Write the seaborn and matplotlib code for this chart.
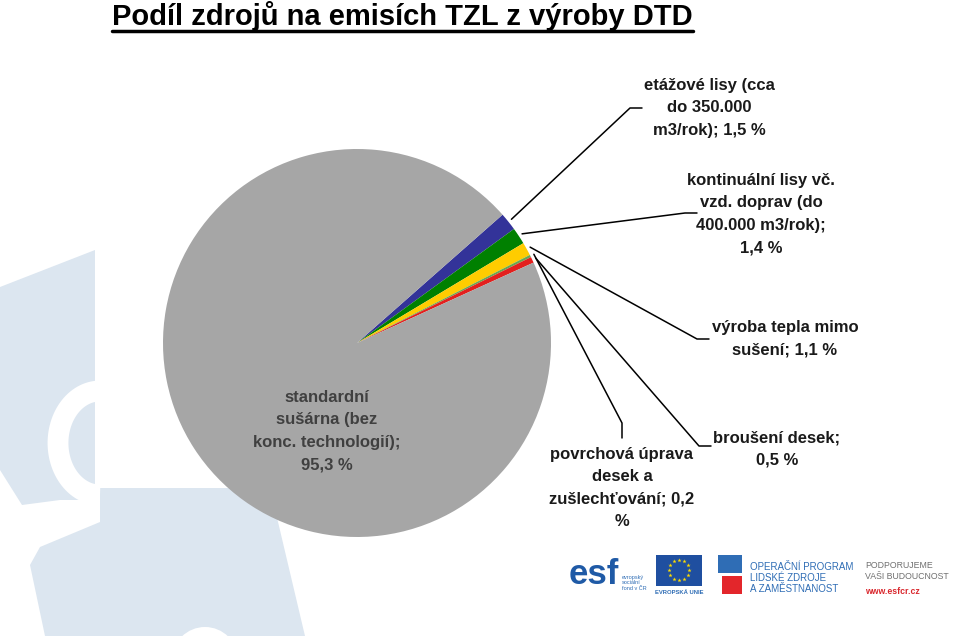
import matplotlib
matplotlib.use("Agg")
import numpy as np
import matplotlib.pyplot as plt
import seaborn as sns
from matplotlib.patches import Polygon, Rectangle, Circle

sns.set_theme(style="white")
plt.rcParams['font.family'] = ['Liberation Sans', 'DejaVu Sans']

# data
categories = ["etážové lisy (cca do 350.000 m3/rok)",
              "kontinuální lisy vč. vzd. doprav (do 400.000 m3/rok)",
              "výroba tepla mimo sušení",
              "povrchová úprava desek a zušlechťování",
              "broušení desek",
              "standardní sušárna (bez konc. technologií)"]
values = [1.5, 1.4, 1.1, 0.2, 0.5, 95.3]
label_lines = [["etážové lisy (cca", "do 350.000", "m3/rok);"],
               ["kontinuální lisy vč.", "vzd. doprav (do", "400.000 m3/rok);"],
               ["výroba tepla mimo", "sušení;"],
               ["povrchová úprava", "desek a", "zušlechťování;"],
               ["broušení desek;"],
               ["standardní", "sušárna (bez", "konc. technologií);"]]
colors = ["#333399", "#008000", "#FFCC00", "#6AA84F", "#E3201E", "#A6A6A6"]

W, H = 960, 636
fig = plt.figure(figsize=(W / 100, H / 100), dpi=100)
fig.patch.set_facecolor("white")

def ff(x, y):
    # pixel (from top-left) -> figure fraction
    return x / W, 1 - y / H

# background layer in pixel coordinates
bg = fig.add_axes([0, 0, 1, 1], zorder=0)
bg.set_xlim(0, W); bg.set_ylim(H, 0); bg.axis("off")
bg.patch.set_alpha(0)

# watermark puzzle
wm = "#DCE6F0"
bg.add_patch(Polygon([(0, 287), (95, 250), (95, 500), (60, 500), (22, 505), (0, 470)],
                     closed=True, facecolor=wm, edgecolor="none"))
t = np.linspace(np.pi * 0.5, np.pi * 1.5, 60)
bg.plot(100 + 42 * np.cos(t), 443 + 52 * np.sin(t), color="white", lw=15, solid_capstyle="butt")
bg.add_patch(Rectangle((95, 380), 10, 130, facecolor="white", edgecolor="none"))
bg.add_patch(Polygon([(100, 488), (270, 488), (305, 636), (45, 636), (30, 565), (40, 547), (100, 522)],
                     closed=True, facecolor=wm, edgecolor="none"))
bg.add_patch(Circle((205, 660), 33, facecolor="white", edgecolor="none"))

# pie
cx, cy, r = 357, 343, 194
ax = fig.add_axes([(cx - r) / W, (H - cy - r) / H, 2 * r / W, 2 * r / H], zorder=2)
wedges, _ = ax.pie(values, colors=colors, startangle=41.4, counterclock=False,
                   wedgeprops=dict(linewidth=0))
ax.set_xlim(-1, 1); ax.set_ylim(-1, 1)
ax.set_aspect("equal")
ax.axis("off")

def px2data(x, y):
    disp = fig.transFigure.transform(ff(x, y))
    return ax.transData.inverted().transform(disp)

def fmt(v):
    return f"{v:.1f}".replace(".", ",") + " %"

txt_kw = dict(fontsize=12, fontweight="bold", ha="center", va="center", multialignment="center",
              color="#1a1a1a", linespacing=1.62)

# label text positions and leader elbows (pixels)
text_pos = [(709, 108), (761, 214), (785, 339), (622, 488), (777, 449), (327, 431)]
elbows = [[(630, 108), (642, 108)],
          [(685, 213), (697, 213)],
          [(697, 339), (709, 339)],
          [(622, 423), (622, 438)],
          [(699, 446), (711, 446)],
          None]

for i, w in enumerate(wedges):
    lines = list(label_lines[i])
    val = fmt(values[i])
    if i == 3:
        lines[-1] = lines[-1] + " " + val.split(" ")[0]
        lines.append("%")
    elif i in (0, 2):
        lines[-1] = lines[-1] + " " + val
    else:
        lines.append(val)
    label = "\n".join(lines)
    kw = dict(txt_kw)
    if i == 5:
        kw["color"] = "#404040"
    fig.text(*ff(*text_pos[i]), label, zorder=5, **kw)
    if elbows[i] is not None:
        mid = np.deg2rad((w.theta1 + w.theta2) / 2)
        pts = [(1.02 * np.cos(mid), 1.02 * np.sin(mid))] + [tuple(px2data(*p)) for p in elbows[i]]
        xs, ys = zip(*pts)
        ax.plot(xs, ys, color="black", lw=1.1, clip_on=False)

# title with underline
title = fig.text(*ff(112, 25), "Podíl zdrojů na emisích TZL z výroby DTD", fontsize=21,
                 fontweight="bold", ha="left", va="baseline", color="black")
fig.canvas.draw()
bb = title.get_window_extent().transformed(fig.transFigure.inverted())
fig.add_artist(plt.Line2D([bb.x0, bb.x1], [1 - 31 / H, 1 - 31 / H], color="black", lw=2.5,
                          transform=fig.transFigure))

# logos at bottom
blue = "#2F6DB5"
bg.text(594, 575, "esf", fontsize=25, fontweight="bold", color="#1F5AA6", ha="center", va="center")
bg.text(622, 583, "evropský\nsociální\nfond v ČR", fontsize=4, color=blue, ha="left", va="center",
        linespacing=1.1)
bg.add_patch(Rectangle((656, 555), 46, 31, facecolor="#1F4FA0", edgecolor="none"))
ang = np.linspace(0, 2 * np.pi, 13)[:-1]
bg.scatter(679 + 10 * np.cos(ang), 570 + 10 * np.sin(ang), marker="*", s=10, color="#FFDD00",
           linewidths=0, zorder=3)
bg.text(679, 592, "EVROPSKÁ UNIE", fontsize=4.2, fontweight="bold", color=blue, ha="center", va="center")
bg.add_patch(Rectangle((718, 555), 24, 18, facecolor=blue, edgecolor="none"))
bg.add_patch(Rectangle((722, 576), 20, 18, facecolor="#E3262B", edgecolor="none"))
bg.text(750, 578, "OPERAČNÍ PROGRAM\nLIDSKÉ ZDROJE\nA ZAMĚSTNANOST", fontsize=7, color=blue,
        ha="left", va="center", linespacing=1.15)
bg.text(865, 571, "PODPORUJEME\nVAŠI BUDOUCNOST", fontsize=6.3, color="#707070",
        ha="left", va="center", linespacing=1.2)
bg.text(865, 591, "www.esfcr.cz", fontsize=6.3, color="#D9262C", ha="left", va="center", fontweight="bold")

fig.savefig("out.png", dpi=100)
